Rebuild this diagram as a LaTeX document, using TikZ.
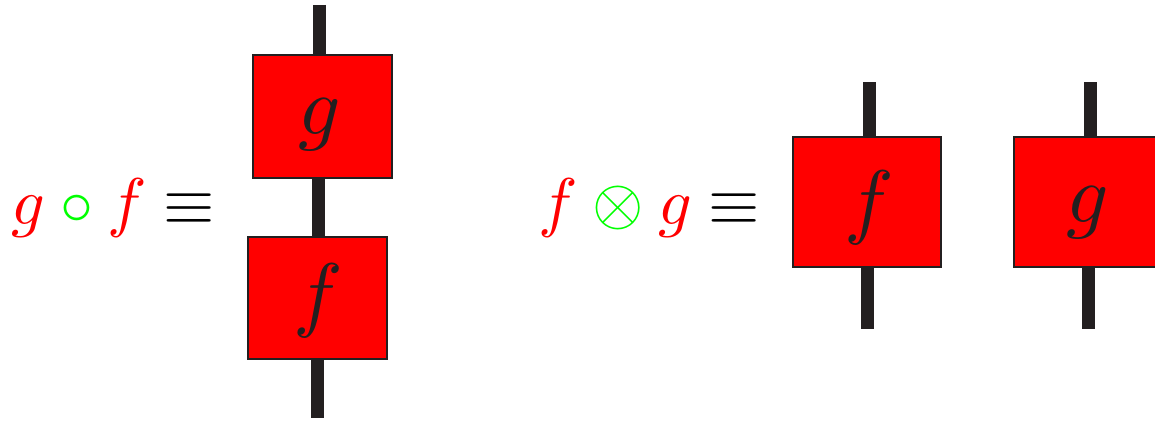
\documentclass[tikz,border=0pt]{standalone}
\definecolor{dark}{HTML}{231F20}
\definecolor{boxred}{HTML}{FF0000}
\definecolor{txtred}{HTML}{FF0000}
\definecolor{opgreen}{HTML}{00FF00}
\tikzset{
  box/.style={draw=dark, fill=boxred, line width=2pt, inner sep=0pt},
  wire/.style={draw=dark, line width=13pt},
  boxlbl/.style={anchor=base, inner sep=0pt, text=dark, scale=8.3},
  lbl/.style={anchor=base, inner sep=0pt, scale=6.6},
}
\begin{document}
\begin{tikzpicture}[x=1pt,y=-1pt]
\useasboundingbox (0,0) rectangle (1155,420);
% ---- left: composition ----
\coordinate (t1) at (319,5);
\coordinate (m1) at (318.5,0);
\coordinate (b1) at (317.5,418);
\node[box, minimum width=139pt, minimum height=123pt] (g1) at (322,116.5) {};
\node[box, minimum width=139pt, minimum height=122pt] (f1) at (317,297.5) {};
\node[boxlbl] (g1l) at (320,134) {$g$};
\node[boxlbl] (f1l) at (318,321) {$f$};
\draw[wire] (t1) -- (t1 |- g1.north);
\draw[wire] (g1.south -| m1) -- (f1.north -| m1);
\draw[wire] (f1.south -| b1) -- (b1);
\node[lbl, text=txtred] (lg) at (28,224) {$g$};
\node[lbl, text=opgreen] (lc) at (77,224) {$\circ$};
\node[lbl, text=txtred] (lf) at (127.5,224) {$f$};
\node[lbl, text=black] (le) at (189,224) {$\equiv$};
% ---- right: tensor product ----
\node[lbl, text=txtred] (rf) at (558.5,224) {$f$};
\node[lbl, text=opgreen] (ro) at (618,224) {$\otimes$};
\node[lbl, text=txtred] (rg) at (675.5,224) {$g$};
\node[lbl, text=black] (re) at (734.5,224) {$\equiv$};
\begin{scope}
\clip (0,0) rectangle (1155,420);
\node[box, minimum width=148pt, minimum height=130pt] (f2) at (866.7,202.3) {};
\node[box, minimum width=148pt, minimum height=130pt] (g2) at (1088.3,202.3) {};
\node[boxlbl] (f2l) at (869,228) {$f$};
\node[boxlbl] (g2l) at (1088,222) {$g$};
\coordinate (t2) at (869.5,82);
\coordinate (b2) at (867.5,329);
\coordinate (t3) at (1090,82);
\coordinate (b3) at (1088.5,329);
\draw[wire] (t2) -- (t2 |- f2.north);
\draw[wire] (f2.south -| b2) -- (b2);
\draw[wire] (t3) -- (t3 |- g2.north);
\draw[wire] (g2.south -| b3) -- (b3);
\end{scope}
\end{tikzpicture}
\end{document}
